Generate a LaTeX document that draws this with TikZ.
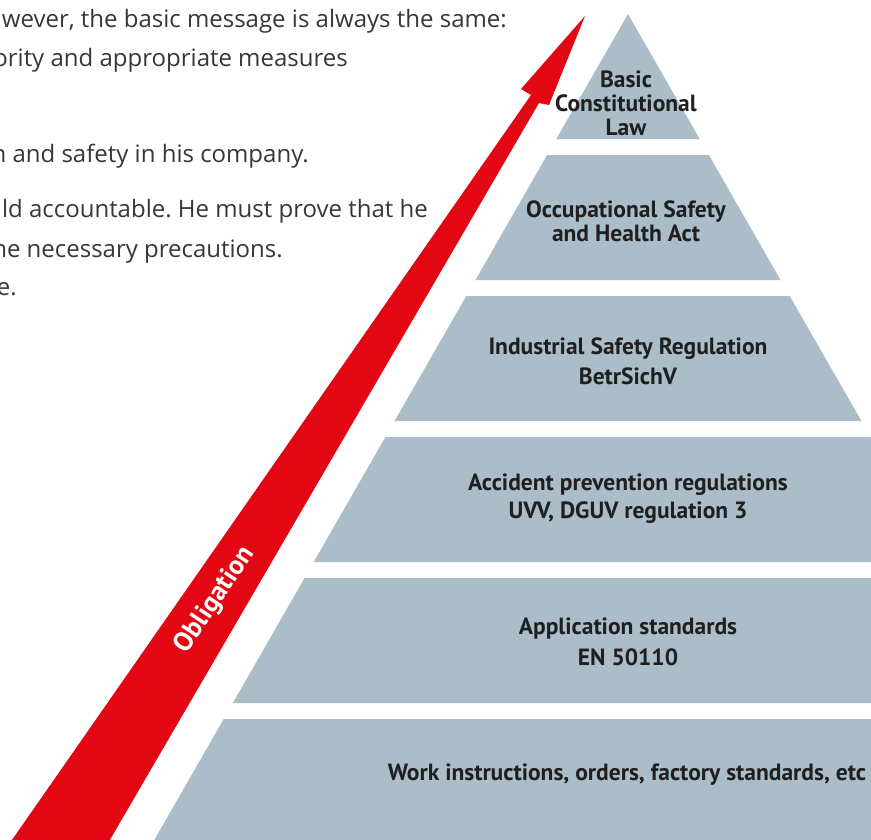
\documentclass[tikz,border=0pt]{standalone}
\usepackage{fontspec}
\setmainfont{Open Sans}
\newfontfamily\tierfont{PT Sans}
\frenchspacing

\definecolor{tiergray}{RGB}{171,189,201}
\definecolor{obligred}{RGB}{227,6,19}
\definecolor{bodygray}{RGB}{55,55,55}

\tikzset{
  tier/.style={fill=tiergray, draw=none},
  tierlabel/.style={font=\tierfont\bfseries\fontsize{23.5}{24}\selectfont,
    align=center, text=black!88, inner sep=0pt},
  bodyline/.style={font=\fontsize{24}{26}\selectfont, text=bodygray,
    anchor=base east, inner sep=0pt},
}

\begin{document}
\begin{tikzpicture}[x=1pt,y=-1pt]
  \useasboundingbox (0,0) rectangle (871,839);
  \clip (0,0) rectangle (871,839);

  % running text, cut off at the left border
  \node[bodyline] (lineA) at (507,27) {wever, the basic message is always the same:};
  \node[bodyline] (lineB) at (348,66) {ority and appropriate measures};
  \node[bodyline] (lineC) at (309,162) {n and safety in his company.};
  \node[bodyline] (lineD) at (428,217) {ld accountable. He must prove that he};
  \node[bodyline] (lineE) at (283,257) {ne necessary precautions.};
  \node[bodyline] (lineF) at (17,295) {e.};

  % pyramid tiers
  \foreach \k in {0,...,5}{
    \pgfmathsetmacro\yt{14+141*\k}
    \pgfmathsetmacro\yb{139+141*\k}
    \pgfmathsetmacro\dt{0.5735*(\yt-14)}
    \pgfmathsetmacro\db{0.5735*(\yb-14)}
    \fill[tier] (628-\dt,\yt) -- (628+\dt,\yt) -- (628+\db,\yb) -- (628-\db,\yb) -- cycle;
  }

  \node[tierlabel] (law) at (626,103) {Basic\\Constitutional\\Law};
  \node[tierlabel] (act) at (626,221) {Occupational Safety\\and Health Act};
  \node[tierlabel] (betr) at (628,361) {Industrial Safety Regulation\\[6pt]BetrSichV};
  \node[tierlabel] (uvv) at (628,499) {Accident prevention regulations\\[4pt]UVV, DGUV regulation 3};
  \node[tierlabel] (norm) at (628,642) {Application standards\\[7pt]EN 50110};
  \node[tierlabel] (work) at (627,775) {Work instructions, orders, factory standards, etc};

  % obligation arrow
  \fill[obligred] (5,850) -- (531,95) -- (521,89) -- (585,16) -- (549,105)
    -- (539,103) -- (104,850) -- cycle;
  \node[font=\tierfont\bfseries\fontsize{27}{28}\selectfont, text=white,
    rotate=56, inner sep=0pt] (oblig) at (215,600) {Obligation};
\end{tikzpicture}
\end{document}
